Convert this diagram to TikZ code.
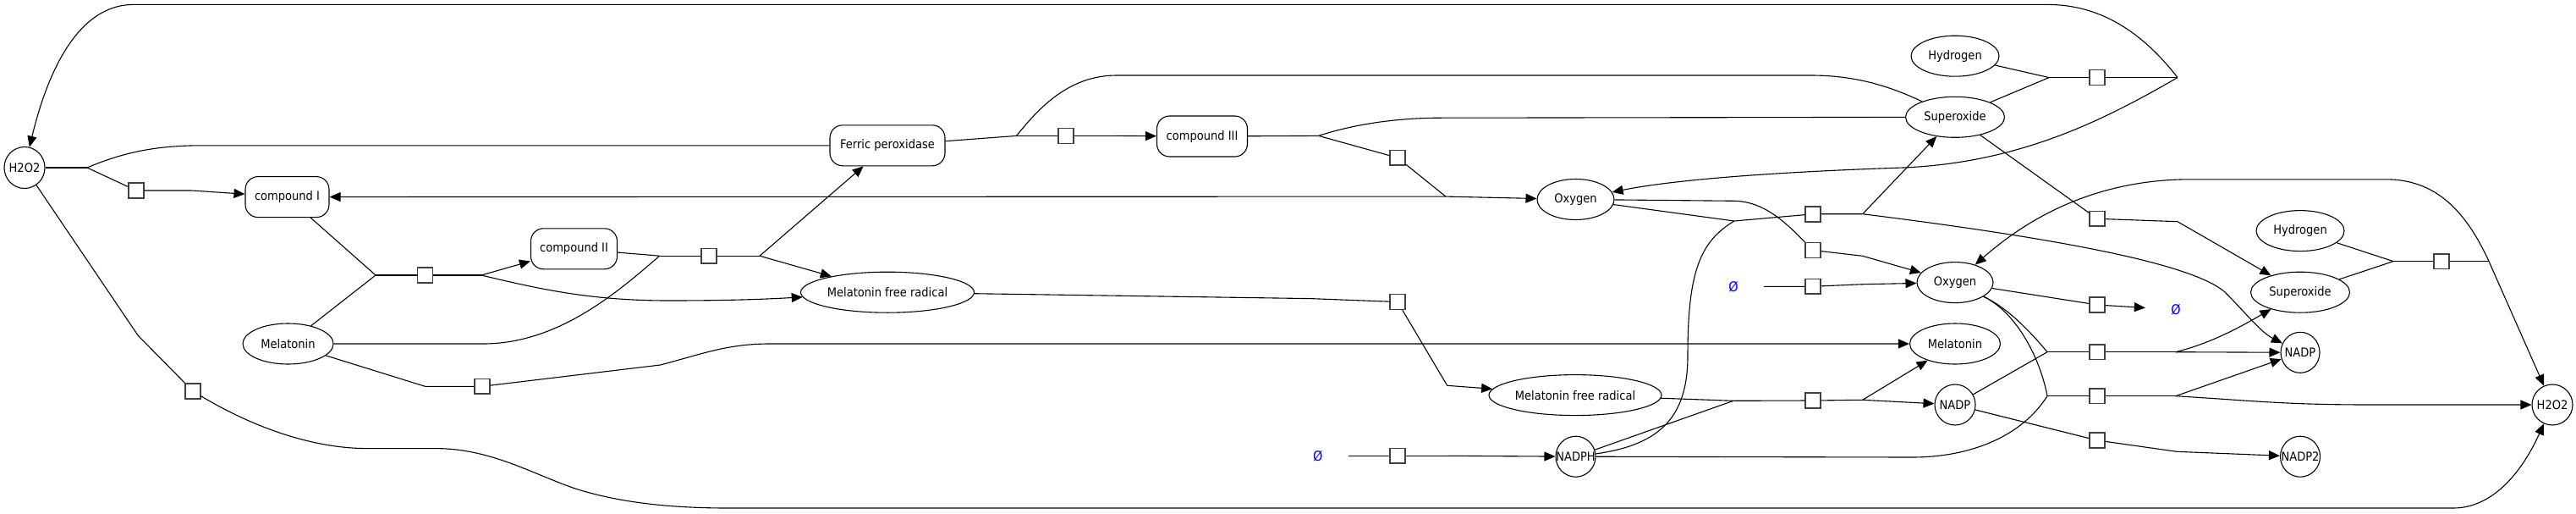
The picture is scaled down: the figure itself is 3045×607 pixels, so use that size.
\documentclass[tikz,border=0pt]{standalone}
\usepackage{fontspec}
\setmainfont{DejaVu Sans}[FakeStretch=0.9]
\usepackage{tikz}
\usetikzlibrary{arrows.meta,shapes.geometric}

\tikzset{
	species/.style={draw, ellipse, line width=1.1pt, inner sep=-12pt, minimum height=48pt},
	complex/.style={draw, rectangle, rounded corners=15pt, line width=1.1pt, inner sep=0pt, minimum height=48pt},
	rxn/.style={draw=black!75, fill=white, rectangle, line width=1.6pt, minimum width=17.8pt, minimum height=17.8pt, inner sep=0pt},
	emptyset/.style={text=blue, font=\fontsize{16}{18}\selectfont, minimum width=72pt, inner sep=0pt},
	link/.style={line width=1.1pt},
	prod/.style={line width=1.1pt, -{Triangle[length=13pt,width=11pt]}},
}

\begin{document}
\begin{tikzpicture}[x=1pt, y=-1pt, font=\fontsize{14.5}{17}\selectfont]

	\useasboundingbox (0,0) rectangle (3045,607);

	\node[species, minimum width=48pt, minimum height=49pt] (h2o2a) at (29,198) {H2O2};
	\node[complex, minimum width=99pt] (cpdI) at (339.5,232.6) {compound I};
	\node[complex, minimum width=102pt] (cpdII) at (678.5,293.8) {compound II};
	\node[species, minimum width=107pt] (mel) at (340.5,406) {Melatonin};
	\node[complex, minimum width=136pt] (ferric) at (1049,171.8) {Ferric peroxidase};
	\node[species, minimum width=205pt] (mfr) at (1049,345.2) {Melatonin free radical};
	\node[complex, minimum width=107pt] (cpdIII) at (1421,161) {compound III};
	\node[species, minimum width=91pt] (oxy) at (1862.5,235.5) {Oxygen};
	\node[species, minimum width=204pt] (mfrb) at (1862,466.6) {Melatonin free radical};
	\node[species, minimum width=47pt] (nadph) at (1862.5,539.2) {NADPH};
	\node[species, minimum width=104pt] (hyd) at (2311,66.2) {Hydrogen};
	\node[species, minimum width=117pt] (sup) at (2311,138.3) {Superoxide};
	\node[species, minimum width=90pt] (oxyb) at (2311,333.6) {Oxygen};
	\node[species, minimum width=107pt] (melb) at (2311,406) {Melatonin};
	\node[species, minimum width=48pt] (nadpa) at (2311,478) {NADP};
	\node[species, minimum width=104pt] (hydb) at (2719,272.6) {Hydrogen};
	\node[species, minimum width=117pt] (supb) at (2719,345.2) {Superoxide};
	\node[species, minimum width=46pt] (nadp) at (2719,416.3) {NADP};
	\node[species, minimum width=47pt] (nadpb) at (2719,539.2) {NADP2};
	\node[species, minimum width=48pt] (h2o2b) at (3017,478) {H2O2};

	\node[emptyset] (srcA) at (1557.7,538.3) {Ø};
	\node[emptyset] (srcB) at (2049,338.3) {Ø};
	\node[emptyset] (sinkA) at (2572,365.7) {Ø};

	\node[rxn] (r1) at (161,225) {};
	\node[rxn] (r2) at (228,462) {};
	\node[rxn] (r3) at (502.5,325) {};
	\node[rxn] (r4) at (570,456.3) {};
	\node[rxn] (r5) at (838,302.2) {};
	\node[rxn] (r6) at (1260,160.4) {};
	\node[rxn] (r7) at (1652,186.3) {};
	\node[rxn] (r8) at (1652,356.5) {};
	\node[rxn] (r9) at (1652,538.3) {};
	\node[rxn] (r10) at (2143,252.8) {};
	\node[rxn] (r11) at (2143,295.5) {};
	\node[rxn] (r12) at (2143,338.3) {};
	\node[rxn] (r13) at (2143,473) {};
	\node[rxn] (r14) at (2479,91.6) {};
	\node[rxn] (r15) at (2479,258.3) {};
	\node[rxn] (r16) at (2479,360) {};
	\node[rxn] (r17) at (2479,415.7) {};
	\node[rxn] (r18) at (2479,467.7) {};
	\node[rxn] (r19) at (2479,520) {};
	\node[rxn] (r20) at (2886,308.6) {};

	\coordinate (j1) at (103,198);
	\coordinate (j1o) at (226.7,225);
	\coordinate (j2) at (163,396);
	\coordinate (j3) at (444,325);
	\coordinate (j3o) at (569,325);
	\coordinate (j4) at (502.5,456.3);
	\coordinate (j4o) at (780.6,431);
	\coordinate (j5) at (779.6,302.2);
	\coordinate (j5o) at (898,302.2);
	\coordinate (j6) at (1201.5,160.4);
	\coordinate (j6o) at (1319,160.4);
	\coordinate (j7) at (1558.7,160.4);
	\coordinate (j7o) at (1709,232.1);
	\coordinate (j8) at (1548.5,352.6);
	\coordinate (j8o) at (1710.7,455.3);
	\coordinate (j9o) at (1710.7,538.3);
	\coordinate (j10) at (2050,261);
	\coordinate (j10o) at (2201.7,252.7);
	\coordinate (j11) at (2050,237.3);
	\coordinate (j11o) at (2201.7,302.3);
	\coordinate (j12o) at (2201.7,335.7);
	\coordinate (j13) at (2049,473.3);
	\coordinate (j13o) at (2201.7,472.3);
	\coordinate (j14) at (2422,91.6);
	\coordinate (j14o) at (2574,91.6);
	\coordinate (j15o) at (2574,261.7);
	\coordinate (j17) at (2420,415.7);
	\coordinate (j17o) at (2571.7,415.7);
	\coordinate (j18) at (2420,467.7);
	\coordinate (j18o) at (2571.7,467.7);
	\coordinate (j19o) at (2573,533.3);
	\coordinate (j20) at (2829,308.6);
	\coordinate (j20o) at (2942,308.6);

	\draw[link] (h2o2a) -- (j1);
	\draw[link] (ferric) -- (240,171.8) .. controls (190,171.8) and (150,178) .. (j1);
	\draw[link] (j1) -- (r1) -- (j1o);
	\draw[prod] (j1o) -- (cpdI);

	\draw[link] (cpdI) -- (j3);
	\draw[link] (mel) -- (j3);
	\draw[link] (j3) -- (r3) -- (j3o);
	\draw[prod] (j3o) -- (cpdII);
	\draw[prod] (j3o) .. controls (640,342) and (700,355) .. (790,355) .. controls (870,355) and (910,353) .. (mfr);

	\draw[link] (cpdII) -- (j5);
	\draw[link] (mel) -- (571,406) .. controls (660,406) and (730,345) .. (j5);
	\draw[link] (j5) -- (r5) -- (j5o);
	\draw[prod] (j5o) -- (ferric);
	\draw[prod] (j5o) -- (mfr);

	\draw[link] (mel) -- (j4) -- (r4) -- (j4o);
	\draw[prod] (j4o) .. controls (830,418) and (860,406) .. (910,406) -- (melb);

	\draw[link] (ferric) -- (j6);
	\draw[link] (sup) .. controls (2230,100) and (2190,89) .. (2140,89) -- (1320,89) .. controls (1265,89) and (1230,125) .. (j6);
	\draw[link] (j6) -- (r6) -- (j6o);
	\draw[prod] (j6o) -- (cpdIII);

	\draw[link] (cpdIII) -- (j7);
	\draw[link] (sup) -- (1704,139.2) .. controls (1640,139.2) and (1590,150) .. (j7);
	\draw[link] (j7) -- (r7) -- (j7o);
	\draw[prod] (j7o) -- (cpdI);
	\draw[prod] (j7o) -- (oxy);

	\draw[link] (mfr) -- (j8) -- (r8) -- (j8o);
	\draw[prod] (j8o) -- (mfrb);

	\draw[link] (srcA) -- (r9) -- (j9o);
	\draw[prod] (j9o) -- (nadph);

	\draw[link] (oxy) -- (j11) .. controls (2085,238) and (2110,262) .. (r11);
	\draw[link] (r11) -- (j11o);
	\draw[prod] (j11o) -- (oxyb);

	\draw[link] (oxy) -- (j10);
	\draw[link] (nadph) .. controls (1965,525) and (1995,490) .. (1995,420) .. controls (1995,320) and (2010,285) .. (j10);
	\draw[link] (j10) -- (r10) -- (j10o);
	\draw[prod] (j10o) -- (sup);
	\draw[prod] (j10o) .. controls (2420,280) and (2590,310) .. (2630,345) .. controls (2655,370) and (2672,392) .. (nadp);

	\draw[link] (srcB) -- (r12) -- (j12o);
	\draw[prod] (j12o) -- (oxyb);

	\draw[link] (mfrb) -- (j13);
	\draw[link] (nadph) -- (j13);
	\draw[link] (j13) -- (r13) -- (j13o);
	\draw[prod] (j13o) -- (melb);
	\draw[prod] (j13o) -- (nadpa);

	\draw[link] (hyd) -- (j14);
	\draw[link] (sup) -- (j14);
	\draw[link] (j14) -- (r14) -- (j14o);
	\draw[prod] (j14o) .. controls (2530,35) and (2480,5.4) .. (2420,5.4) -- (158,5.4) .. controls (90,5.4) and (55,90) .. (h2o2a);
	\draw[prod] (j14o) .. controls (2490,140) and (2390,192) .. (2250,198) .. controls (2100,203) and (1980,212) .. (oxy);

	\draw[link] (sup) -- (r15) -- (j15o);
	\draw[prod] (j15o) -- (supb);

	\draw[link] (oxyb) -- (r16);
	\draw[prod] (r16) -- (sinkA);

	\draw[link] (oxyb) .. controls (2375,365) and (2400,392) .. (j17);
	\draw[link] (nadpa) -- (j17);
	\draw[link] (j17) -- (r17) -- (j17o);
	\draw[prod] (j17o) .. controls (2615,405) and (2650,385) .. (supb);
	\draw[prod] (j17o) -- (nadp);

	\draw[link] (oxyb) .. controls (2385,370) and (2412,425) .. (j18);
	\draw[link] (nadph) -- (2260,540) .. controls (2330,540) and (2390,515) .. (j18);
	\draw[link] (j18) -- (r18) -- (j18o);
	\draw[prod] (j18o) -- (nadp);
	\draw[prod] (j18o) .. controls (2660,473) and (2700,478) .. (2800,478) -- (h2o2b);

	\draw[link] (nadpa) -- (r19) -- (j19o);
	\draw[prod] (j19o) -- (nadpb);

	\draw[link] (hydb) -- (j20);
	\draw[link] (supb) -- (j20);
	\draw[link] (j20) -- (r20) -- (j20o);
	\draw[prod] (j20o) -- (h2o2b);
	\draw[prod] (j20o) .. controls (2915,250) and (2880,211.8) .. (2820,211.8) -- (2590,211.8) .. controls (2480,211.8) and (2400,255) .. (oxyb);

	\draw[link] (h2o2a) -- (j2) -- (r2);
	\draw[prod] (r2) .. controls (300,505) and (370,529.6) .. (434,529.6) -- (515,529.6) .. controls (580,529.6) and (630,560) .. (680,577) .. controls (730,593) and (790,600) .. (860,600) -- (2900,600) .. controls (2945,600) and (2980,560) .. (h2o2b);

\end{tikzpicture}
\end{document}
